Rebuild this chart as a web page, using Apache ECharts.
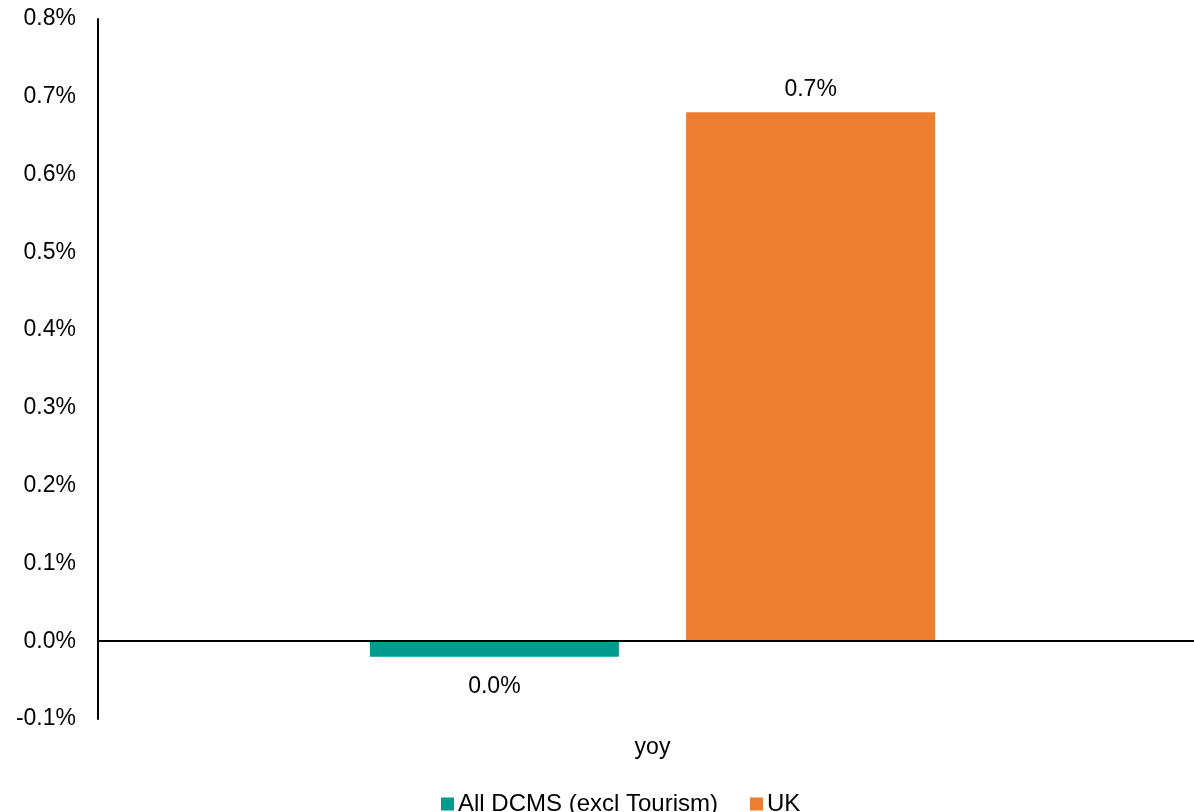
<!DOCTYPE html>
<html>
<head>
<meta charset="utf-8">
<script src="https://cdn.jsdelivr.net/npm/echarts@6/dist/echarts.min.js"></script>
<style>html,body{margin:0;padding:0;background:#fff;}#c{width:1194px;height:812px;}</style>
</head>
<body>
<div id="c"></div>
<script>
const categories = ['yoy'];
const seriesNames = ['All DCMS (excl Tourism)', 'UK'];
const dcmsValues = [-0.02];
const ukValues = [0.68];
const yTicks = { min: -0.1, max: 0.8, interval: 0.1 };

const font = 'Liberation Sans, Arial, sans-serif';
const fs = 23;
const chart = echarts.init(document.getElementById('c'));
chart.setOption({
  animation: false,
  textStyle: { fontFamily: font },
  grid: { left: 98, top: 19, bottom: 93, width: 1109, containLabel: false, outerBoundsMode: 'none' },
  legend: {
    left: 441, top: 792, padding: 0,
    itemWidth: 13, itemHeight: 13, itemGap: 32,
    icon: 'rect',
    textStyle: { fontFamily: font, fontSize: 24, color: '#000', padding: [0, 0, 0, -1] },
    data: seriesNames
  },
  xAxis: {
    type: 'category',
    data: categories,
    axisLine: { show: false, onZero: false },
    axisTick: { show: false },
    axisLabel: { fontFamily: font, fontSize: fs, color: '#000', margin: 17 }
  },
  yAxis: {
    type: 'value',
    min: yTicks.min, max: yTicks.max, interval: yTicks.interval,
    splitLine: { show: false },
    axisLine: { show: true, lineStyle: { color: '#000', width: 2 } },
    axisTick: { show: false },
    axisLabel: {
      fontFamily: font, fontSize: fs, color: '#000', margin: 22,
      padding: [4, 0, 0, 0],
      formatter: v => v.toFixed(1) + '%'
    }
  },
  series: [
    {
      name: seriesNames[0], type: 'bar', data: dcmsValues,
      barWidth: 249, barGap: '27%',
      itemStyle: { color: '#009B8F' },
      label: {
        show: true, position: 'bottom', distance: 18,
        fontFamily: font, fontSize: fs, color: '#000',
        formatter: p => p.value.toFixed(1).replace('-0.0', '0.0') + '%'
      },
      markLine: {
        silent: true, symbol: 'none',
        label: { show: false },
        lineStyle: { color: '#000', width: 2, type: 'solid' },
        data: [{ yAxis: 0 }]
      },
      z: 1
    },
    {
      name: seriesNames[1], type: 'bar', data: ukValues,
      barWidth: 249,
      itemStyle: { color: '#ED7D31' },
      label: {
        show: true, position: 'top', distance: 11,
        fontFamily: font, fontSize: fs, color: '#000',
        formatter: p => p.value.toFixed(1) + '%'
      }
    }
  ]
});
</script>
</body>
</html>
